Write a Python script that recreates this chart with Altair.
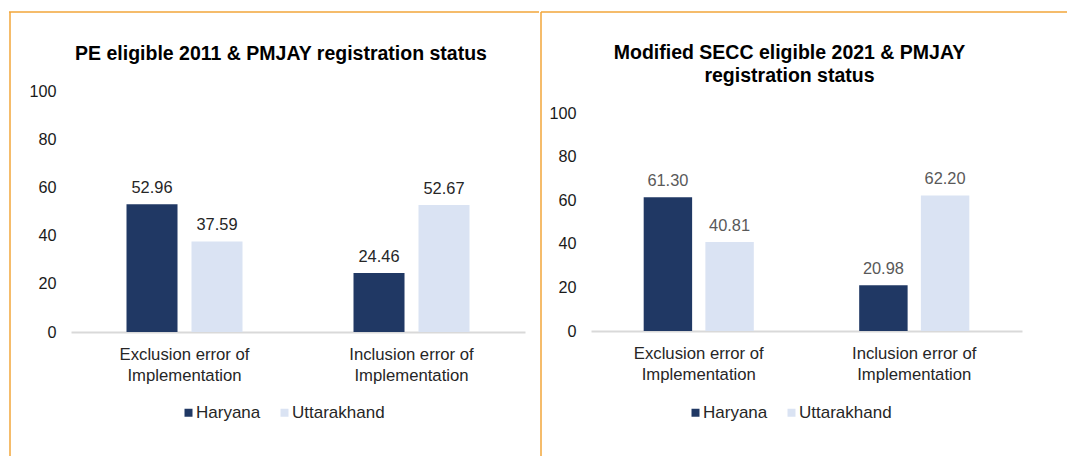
import altair as alt
import pandas as pd

# ---- data ----
categories = ["Exclusion error of\nImplementation", "Inclusion error of\nImplementation"]
states = ["Haryana", "Uttarakhand"]
state_colors = ["#203864", "#DAE3F3"]

pe_haryana = [52.96, 24.46]
pe_uttarakhand = [37.59, 52.67]

secc_haryana = [61.30, 20.98]
secc_uttarakhand = [40.81, 62.20]

y_ticks = [0, 20, 40, 60, 80, 100]

FONT = "Liberation Sans"
ORANGE = "#F2A63A"


def make_df(h_vals, u_vals):
    rows = []
    for c, h, u in zip(categories, h_vals, u_vals):
        rows.append({"cat": c, "state": "Haryana", "value": h})
        rows.append({"cat": c, "state": "Uttarakhand", "value": u})
    return pd.DataFrame(rows)


def panel(df, title_lines, title_offset, width, height, ymax, value_color,
          legend_x, rules):
    base = alt.Chart(df)
    x_enc = alt.X("cat:N", sort=categories,
                  scale=alt.Scale(paddingInner=0, paddingOuter=0),
                  axis=alt.Axis(title=None, labelAngle=0, ticks=False,
                                domainColor="#D9D9D9", domainWidth=2,
                                labelFont=FONT, labelFontSize=16.7,
                                labelColor="#262626", labelLineHeight=21,
                                labelPadding=14,
                                labelExpr="split(datum.label, '\\n')"))
    xo_enc = alt.XOffset("state:N", sort=states,
                         scale=alt.Scale(paddingInner=0.215, paddingOuter=0.854))
    y_enc = alt.Y("value:Q",
                  scale=alt.Scale(domain=[0, ymax], nice=False, zero=True),
                  axis=alt.Axis(title=None, values=y_ticks, grid=False,
                                domain=False, ticks=False, labelFont=FONT,
                                labelFontSize=16.2, labelColor="#1a1a1a",
                                labelPadding=15))
    bars = base.mark_bar().encode(
        x=x_enc, xOffset=xo_enc, y=y_enc,
        color=alt.Color("state:N",
                        scale=alt.Scale(domain=states, range=state_colors),
                        legend=alt.Legend(title=None, orient="none",
                                          legendX=legend_x, legendY=313,
                                          direction="horizontal",
                                          symbolType="square", symbolSize=64,
                                          symbolStrokeWidth=0,
                                          labelFont=FONT, labelFontSize=17,
                                          labelColor="#262626",
                                          labelOffset={"expr": "-1"},
                                          columnPadding=15)),
    )
    labels = base.mark_text(baseline="alphabetic", dy=-11, fontSize=16.4,
                            font=FONT, color=value_color).encode(
        x=alt.X("cat:N", sort=categories), xOffset=alt.XOffset("state:N", sort=states),
        y="value:Q",
        text=alt.Text("value:Q", format=".2f"),
    )
    layers = [bars, labels]
    for (x1, x2, y1, y2) in rules:
        layers.append(
            alt.Chart(pd.DataFrame({"k": [0]})).mark_rule(
                color=ORANGE, strokeWidth=1.5).encode(
                x=alt.value(x1), x2=alt.value(x2),
                y=alt.value(y1), y2=alt.value(y2))
        )
    return alt.layer(*layers).properties(
        width=width, height=height,
        title=alt.TitleParams(text=title_lines, fontSize=19.5, fontWeight="bold",
                              font=FONT, color="#000000", anchor="middle",
                              frame="group", offset=title_offset, dx=-17,
                              lineHeight=23),
    )


left = panel(make_df(pe_haryana, pe_uttarakhand),
             ["PE eligible 2011 & PMJAY registration status"], -53,
             454, 241, 100, "#262626", 109,
             rules=[(-62, 468, -79, -79), (-61, -61, -79, 365)])

right = panel(make_df(secc_haryana, secc_uttarakhand),
              ["Modified SECC eligible 2021 & PMJAY", "registration status"], -75,
              431, 240, 100 * 240 / 218, "#595959", 96,
              rules=[(-50, 476, -79, -79), (-50, -50, -79, 365)])

chart = alt.hconcat(left, right, spacing=0).resolve_scale(
    x="independent", y="independent", color="independent", xOffset="independent"
).resolve_legend(color="independent").properties(
    padding={"left": 0, "top": 3, "right": 0, "bottom": 0},
    background="white",
).configure_view(stroke=None)

chart.save("out.html", embed_options={"renderer": "svg", "actions": False})
